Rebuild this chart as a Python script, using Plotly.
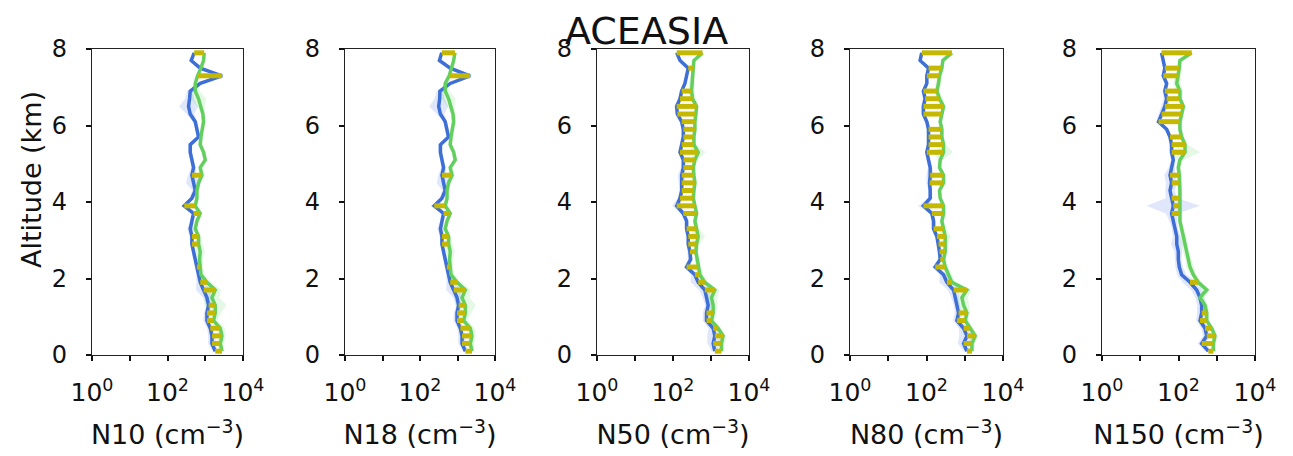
import plotly.graph_objects as go

W, H = 1293, 456

altitude = [7.9, 7.7, 7.5, 7.3, 7.1, 6.9, 6.7, 6.5, 6.3, 6.1,
            5.9, 5.7, 5.5, 5.3, 5.1, 4.9, 4.7, 4.5, 4.3, 4.1,
            3.9, 3.7, 3.5, 3.3, 3.1, 2.9, 2.7, 2.5, 2.3, 2.1,
            1.9, 1.7, 1.5, 1.3, 1.1, 0.9, 0.7, 0.5, 0.3, 0.1]

panel_labels = ["N10 (cm<sup>−3</sup>)", "N18 (cm<sup>−3</sup>)", "N50 (cm<sup>−3</sup>)",
                "N80 (cm<sup>−3</sup>)", "N150 (cm<sup>−3</sup>)"]

x_tick_vals = [1, 10, 100, 1000, 10000]
x_tick_text = ["10<sup>0</sup>", "", "10<sup>2</sup>", "", "10<sup>4</sup>"]
y_tick_vals = [0, 2, 4, 6, 8]

# ---- N10 ----
n10_blue = [510, 425, 736, 2770, 736, 400, 384, 361, 400, 543,
            601, 665, 400, 400, 443, 490, 443, 490, 543, 443,
            277, 490, 443, 400, 443, 443, 490, 543, 601, 665,
            736, 903, 1107, 1225, 1107, 1107, 1358, 1503, 1503, 1841]
n10_green = [940, 903, 767, 626, 543, 543, 665, 767, 867, 903,
             816, 767, 736, 903, 1000, 736, 816, 665, 601, 601,
             543, 736, 601, 543, 665, 665, 736, 707, 736, 767,
             1107, 1841, 1503, 1841, 1841, 1663, 2500, 2770, 2500, 2770]
n10_blue_spread = [.03, .03, .03, .03, .05, .08, .12, .25, .1, .05,
                   .05, .05, .05, .05, .05, .06, .1, .2, .08, .06,
                   .08, .06, .05, .08, .06, .05, .05, .05, .05, .06,
                   .1, .2, .1, .06, .08, .1, .08, .1, .1, .06]
n10_green_spread = [.03, .03, .03, .03, .05, .12, .2, .1, .05, .05,
                    .05, .05, .05, .05, .05, .05, .08, .05, .05, .05,
                    .05, .05, .05, .05, .05, .1, .12, .1, .08, .1,
                    .12, .15, .2, .3, .15, .1, .12, .1, .1, .06]
n10_flags = [7.9, 7.3, 4.7, 3.9, 3.7, 3.1, 2.9, 2.3, 1.9, 1.7, 1.3, 1.1, 0.9, 0.7, 0.5, 0.3, 0.1]

# ---- N18 ----
n18_blue = [380, 330, 640, 2150, 640, 340, 335, 315, 350, 470,
            520, 575, 350, 350, 385, 425, 385, 425, 470, 385,
            240, 425, 385, 350, 385, 385, 425, 470, 520, 575,
            640, 790, 970, 1070, 970, 970, 1190, 1320, 1320, 1620]
n18_green = [855, 790, 690, 600, 470, 470, 580, 670, 760, 790,
             715, 670, 640, 790, 870, 640, 715, 580, 525, 525,
             470, 640, 525, 470, 580, 580, 640, 615, 640, 670,
             970, 1620, 1320, 1620, 1620, 1460, 2200, 2430, 2200, 2430]
n18_blue_spread = [.03, .03, .03, .03, .05, .08, .14, .25, .1, .05,
                   .05, .05, .05, .05, .05, .06, .1, .18, .08, .06,
                   .1, .06, .05, .08, .06, .05, .05, .05, .05, .06,
                   .1, .2, .1, .06, .08, .1, .08, .1, .1, .06]
n18_green_spread = [.03, .03, .03, .03, .05, .12, .18, .1, .05, .05,
                    .05, .05, .05, .05, .05, .05, .08, .05, .05, .05,
                    .05, .05, .05, .05, .05, .1, .12, .1, .08, .1,
                    .12, .15, .2, .28, .15, .1, .12, .1, .1, .06]
n18_flags = [7.9, 7.3, 4.7, 3.9, 3.7, 3.1, 2.9, 2.3, 1.9, 1.7, 1.3, 1.1, 0.9, 0.7, 0.5, 0.3, 0.1]

# ---- N50 ----
n50_blue = [125, 153, 252, 228, 206, 169, 153, 125, 130, 169,
            187, 187, 169, 153, 187, 187, 169, 169, 169, 153,
            125, 187, 228, 228, 252, 252, 279, 290, 228, 377,
            461, 689, 762, 843, 762, 762, 1140, 1260, 1140, 1260]
n50_green = [598, 355, 341, 327, 308, 308, 327, 417, 401, 377,
             377, 355, 355, 461, 377, 341, 355, 377, 355, 341,
             377, 417, 377, 417, 461, 417, 401, 434, 461, 510,
             689, 1260, 1030, 1140, 1140, 1030, 1540, 2080, 1880, 1880]
n50_blue_spread = [.03, .03, .04, .04, .04, .05, .05, .06, .05, .05,
                   .05, .05, .05, .05, .05, .06, .1, .08, .05, .06,
                   .12, .06, .05, .05, .05, .05, .06, .06, .08, .1,
                   .2, .15, .1, .08, .1, .1, .12, .2, .15, .08]
n50_green_spread = [.03, .04, .05, .05, .08, .06, .1, .05, .05, .05,
                    .05, .05, .06, .2, .06, .05, .05, .05, .05, .05,
                    .05, .05, .05, .08, .18, .08, .06, .06, .08, .1,
                    .1, .12, .15, .12, .08, .08, .08, .08, .08, .06]
n50_flags = [7.9, 7.5, 6.9, 6.7, 6.5, 6.3, 6.1, 5.9, 5.7, 5.5, 5.3, 5.1, 4.9, 4.7, 4.5,
             4.3, 4.1, 3.9, 3.7, 3.3, 3.1, 2.9, 2.7, 2.3, 2.1, 1.9, 1.7, 1.1, 0.9, 0.7,
             0.5, 0.3, 0.1]

# ---- N80 ----
n80_blue = [75, 68, 113, 102, 102, 83, 92, 83, 83, 102,
            113, 113, 113, 102, 113, 125, 125, 120, 125, 125,
            83, 138, 153, 153, 187, 206, 219, 228, 169, 279,
            341, 510, 564, 624, 689, 624, 932, 1140, 932, 1140]
n80_green = [461, 268, 252, 219, 206, 187, 219, 279, 252, 228,
             252, 252, 279, 279, 228, 219, 279, 279, 219, 228,
             279, 279, 252, 279, 308, 308, 308, 279, 308, 377,
             461, 1140, 843, 932, 1140, 1030, 1390, 1880, 1540, 1540]
n80_blue_spread = [.03, .03, .04, .04, .04, .05, .06, .06, .05, .05,
                   .05, .05, .05, .05, .05, .06, .1, .08, .05, .06,
                   .14, .06, .05, .05, .05, .05, .06, .06, .08, .1,
                   .2, .15, .1, .08, .1, .1, .12, .2, .15, .08]
n80_green_spread = [.03, .04, .05, .05, .08, .06, .1, .05, .05, .05,
                    .05, .05, .06, .25, .06, .05, .05, .05, .05, .05,
                    .05, .05, .05, .08, .15, .08, .06, .06, .08, .1,
                    .1, .12, .15, .15, .08, .08, .08, .08, .08, .06]
n80_flags = [7.9, 7.5, 7.3, 6.9, 6.7, 6.5, 6.3, 5.9, 5.7, 5.5, 5.3, 4.7, 4.5, 3.9, 3.7,
             3.3, 3.1, 2.9, 2.7, 2.5, 2.3, 1.9, 1.7, 1.1, 0.9, 0.7, 0.5, 0.3, 0.1]

# ---- N150 ----
n150_blue = [36, 40, 44, 40, 49, 44, 49, 44, 36, 30,
             49, 60, 66, 66, 73, 66, 60, 66, 60, 66,
             73, 66, 73, 81, 90, 90, 99, 99, 105, 121,
             200, 299, 365, 403, 403, 365, 493, 546, 403, 603]
n150_green = [221, 109, 105, 99, 90, 109, 109, 134, 121, 109,
              109, 121, 148, 148, 109, 99, 105, 109, 109, 109,
              109, 109, 109, 121, 134, 148, 157, 181, 200, 244,
              330, 546, 365, 493, 546, 546, 737, 900, 815, 815]
n150_blue_spread = [.03, .04, .05, .05, .05, .06, .08, .1, .08, .06,
                    .05, .05, .06, .06, .06, .08, .15, .15, .12, .15,
                    .7, .15, .1, .08, .1, .15, .1, .08, .1, .12,
                    .2, .15, .12, .12, .12, .1, .1, .1, .1, .08]
n150_green_spread = [.03, .04, .05, .08, .1, .08, .06, .06, .06, .06,
                     .06, .06, .08, .4, .08, .06, .06, .06, .06, .06,
                     .06, .06, .06, .06, .08, .08, .08, .08, .1, .08,
                     .08, .1, .1, .08, .06, .06, .06, .06, .06, .06]
n150_flags = [7.9, 7.5, 7.3, 6.9, 6.7, 6.5, 6.3, 6.1, 5.7, 5.5, 5.3, 4.7, 4.5, 4.1, 3.9,
              3.7, 1.9, 1.1, 0.9, 0.7, 0.5, 0.3, 0.1]

panels = [
    (n10_blue, n10_green, n10_blue_spread, n10_green_spread, n10_flags),
    (n18_blue, n18_green, n18_blue_spread, n18_green_spread, n18_flags),
    (n50_blue, n50_green, n50_blue_spread, n50_green_spread, n50_flags),
    (n80_blue, n80_green, n80_blue_spread, n80_green_spread, n80_flags),
    (n150_blue, n150_green, n150_blue_spread, n150_green_spread, n150_flags),
]

BLUE = "#3d6fd6"
GREEN = "#62cf5e"
YELLOW = "#c4b800"
BLUE_FILL = "rgba(70,110,225,0.17)"
GREEN_FILL = "rgba(80,205,80,0.15)"

# panel pixel boxes
x_px = [(92, 243), (345, 495), (597, 749), (850, 1003), (1102, 1255)]
y_px = (49, 355)

fig = go.Figure()


def band(vals, spread):
    lo = [v / (10 ** s) for v, s in zip(vals, spread)]
    hi = [v * (10 ** s) for v, s in zip(vals, spread)]
    return lo + hi[::-1], altitude + altitude[::-1]


for i, (blue, green, bs, gs, flags) in enumerate(panels):
    xa = "x" if i == 0 else f"x{i+1}"
    ya = "y" if i == 0 else f"y{i+1}"
    bx, by = band(blue, bs)
    gx, gy = band(green, gs)
    fig.add_trace(go.Scatter(x=bx, y=by, fill="toself", fillcolor=BLUE_FILL, mode="lines",
                             line=dict(width=0), xaxis=xa, yaxis=ya, hoverinfo="skip",
                             showlegend=False))
    fig.add_trace(go.Scatter(x=gx, y=gy, fill="toself", fillcolor=GREEN_FILL, mode="lines",
                             line=dict(width=0), xaxis=xa, yaxis=ya, hoverinfo="skip",
                             showlegend=False))
    fig.add_trace(go.Scatter(x=blue, y=altitude, mode="lines", line=dict(color=BLUE, width=3.5),
                             xaxis=xa, yaxis=ya, showlegend=False))
    fig.add_trace(go.Scatter(x=green, y=altitude, mode="lines", line=dict(color=GREEN, width=3.5),
                             xaxis=xa, yaxis=ya, showlegend=False))
    sx, sy = [], []
    for a in flags:
        k = altitude.index(a)
        sx += [blue[k], green[k], None]
        sy += [a, a, None]
    fig.add_trace(go.Scatter(x=sx, y=sy, mode="lines", line=dict(color=YELLOW, width=5),
                             xaxis=xa, yaxis=ya, showlegend=False, connectgaps=False))

layout = dict(
    width=W, height=H,
    margin=dict(l=0, r=0, t=0, b=0, autoexpand=False),
    paper_bgcolor="white", plot_bgcolor="white",
    font=dict(family="DejaVu Sans", color="#111", size=22),
    showlegend=False,
)

for i in range(5):
    sfx = "" if i == 0 else str(i + 1)
    x0, x1 = x_px[i]
    layout[f"xaxis{sfx}"] = dict(
        domain=[x0 / W, x1 / W], type="log", range=[0, 4],
        tickvals=x_tick_vals, ticktext=x_tick_text,
        ticks="outside", ticklen=5, tickwidth=1.5, tickcolor="#111",
        showline=True, mirror=True, linecolor="#222", linewidth=1.2,
        showgrid=False, zeroline=False, anchor="y" + sfx,
        tickfont=dict(size=25, family="DejaVu Sans"),
        ticklabelstandoff=10, automargin=False,
        title=dict(text=panel_labels[i], font=dict(size=27, family="DejaVu Sans"), standoff=19),
        fixedrange=True,
    )
    layout[f"yaxis{sfx}"] = dict(
        domain=[1 - y_px[1] / H, 1 - y_px[0] / H], range=[0, 8],
        tickvals=y_tick_vals,
        ticks="outside", ticklen=5, tickwidth=1.5, tickcolor="#111",
        showline=True, mirror=True, linecolor="#222", linewidth=1.2,
        showgrid=False, zeroline=False, anchor="x" + sfx,
        tickfont=dict(size=24, family="DejaVu Sans"),
        ticklabelstandoff=14, automargin=False,
        fixedrange=True,
    )

layout["annotations"] = [
    dict(text="ACEASIA", x=646.5 / W, y=1 - 31 / H, xref="paper", yref="paper",
         xanchor="center", yanchor="middle", showarrow=False,
         font=dict(size=38, family="DejaVu Sans", color="#111")),
    dict(text="Altitude (km)", x=31 / W, y=1 - 180 / H, xref="paper", yref="paper",
         xanchor="center", yanchor="middle", showarrow=False, textangle=-90,
         font=dict(size=27, family="DejaVu Sans", color="#111")),
]

fig.update_layout(**layout)
fig.write_html("out.html", config={"displayModeBar": False},
               post_script="document.body.style.margin='0px';")
